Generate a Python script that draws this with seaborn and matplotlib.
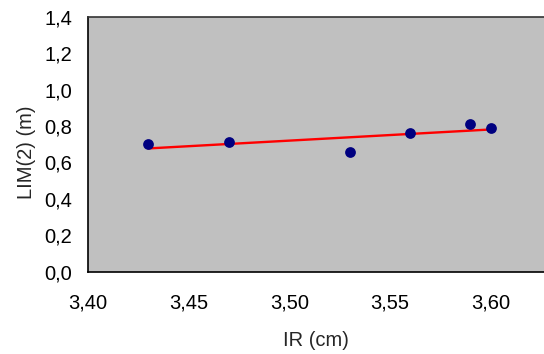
import numpy as np
import pandas as pd
import seaborn as sns
import matplotlib
matplotlib.use("Agg")
import matplotlib.pyplot as plt
from matplotlib.ticker import FuncFormatter, MultipleLocator

# Measurements: internal radius vs LIM(2)
ir_cm = [3.43, 3.47, 3.53, 3.56, 3.59, 3.60]
lim2_m = [0.70, 0.71, 0.66, 0.76, 0.81, 0.79]

df = pd.DataFrame({"IR": ir_cm, "LIM": lim2_m})

sns.set_theme(style="white")
plt.rcParams["font.family"] = ["Liberation Sans", "DejaVu Sans"]

FS = 14.5

fig = plt.figure(figsize=(5.44, 3.54), dpi=100)
ax = fig.add_axes([88 / 544, (354 - 271.5) / 354, (544 - 88) / 544, (271.5 - 17) / 354])
ax.set_facecolor("#C0C0C0")

# Linear trend line over the measured range
coef = np.polyfit(df["IR"], df["LIM"], 1)
xs = np.array([min(ir_cm), max(ir_cm)])
trend = pd.DataFrame({"IR": xs, "LIM": np.polyval(coef, xs)})
sns.lineplot(data=trend, x="IR", y="LIM", ax=ax, color="#FF0000", linewidth=1.7, zorder=2)

sns.scatterplot(data=df, x="IR", y="LIM", ax=ax, color="#000080", s=60,
                edgecolor="#000080", linewidth=0, zorder=3)

ax.set_xlim(3.40, 3.40 + (544 - 88) / 2013.0)
ax.set_ylim(0.0, 1.4)
ax.xaxis.set_major_locator(MultipleLocator(0.05))
ax.yaxis.set_major_locator(MultipleLocator(0.2))
ax.xaxis.set_major_formatter(FuncFormatter(lambda v, p: f"{v:.2f}".replace(".", ",")))
ax.yaxis.set_major_formatter(FuncFormatter(lambda v, p: f"{v:.1f}".replace(".", ",")))

for side in ["left", "bottom", "top"]:
    ax.spines[side].set_visible(True)
    ax.spines[side].set_color("black")
    ax.spines[side].set_linewidth(1.2)
ax.spines["right"].set_visible(False)
ax.spines["top"].set_color("#333333")

ax.tick_params(axis="both", direction="out", length=4.5, width=1, color="#666666",
               labelsize=FS, labelcolor="black")
ax.tick_params(axis="x", pad=11)
ax.tick_params(axis="y", pad=7)

ax.set_xlabel("IR (cm)", fontsize=FS, labelpad=14)
ax.set_ylabel("LIM(2) (m)", fontsize=FS)
ax.yaxis.set_label_coords(-0.114, 0.468)

fig.savefig("out.png", dpi=100)
